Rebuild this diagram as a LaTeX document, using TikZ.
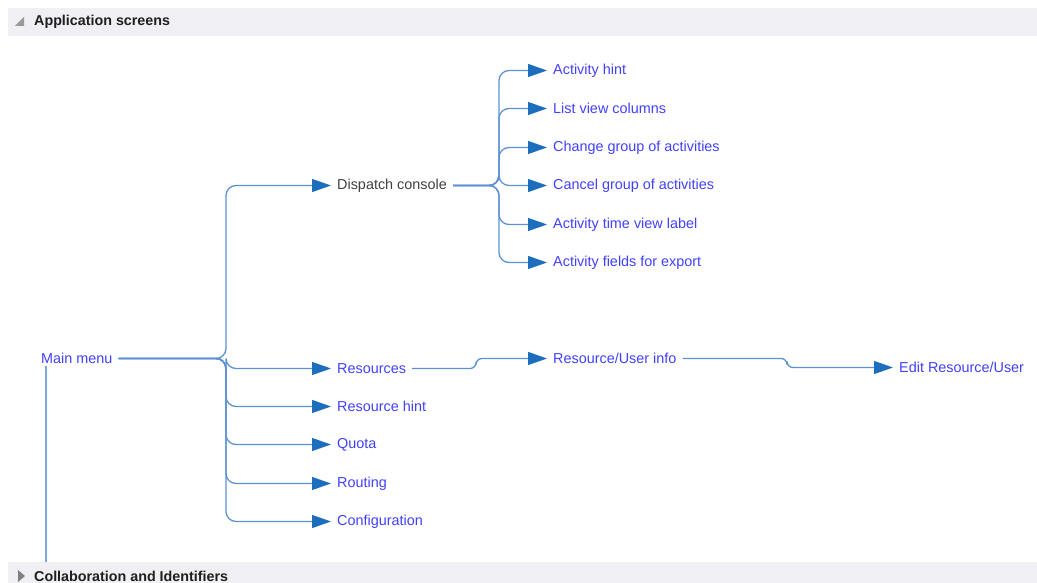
\documentclass[tikz,border=0pt]{standalone}
\usepackage{fontspec}
\setmainfont{Liberation Sans}
\usetikzlibrary{arrows.meta}
\definecolor{linkblue}{RGB}{64,64,255}
\definecolor{edgeblue}{RGB}{92,146,212}
\definecolor{tipblue}{RGB}{30,110,190}
\definecolor{barfill}{RGB}{239,239,244}
\begin{document}
\begin{tikzpicture}[
    x=1pt, y=-1pt,
    screen/.style={anchor=west, inner xsep=6pt, inner ysep=2pt, text=linkblue, font=\fontsize{14.4}{16}\selectfont},
    edge/.style={draw=edgeblue, line width=1.3pt, rounded corners=10pt, -{Triangle[length=19pt, width=13pt, color=tipblue]}},
    bartitle/.style={anchor=west, inner sep=0pt, text=black!88, font=\bfseries\fontsize{14.3}{16}\selectfont}
]
    \useasboundingbox (0,0) rectangle (1037,583);

    % section bars
    \fill[barfill] (8,8) rectangle (1037,36);
    \fill[barfill] (8,562) rectangle (1037,590);
    \fill[black!40] (24,17) -- (24,26) -- (15,26) -- cycle;
    \fill[black!50] (18,570) -- (18,582) -- (25,576) -- cycle;
    \node[bartitle] (apptitle) at (34,22) {Application screens};
    \node[bartitle] (collabtitle) at (34,576) {Collaboration and Identifiers};

    % screens
    \node[screen] (main) at (35,358.5) {Main menu};
    \node[screen, text=black!75] (disp) at (331,185.5) {Dispatch console};
    \node[screen] (hint) at (547,70.5) {Activity hint};
    \node[screen] (cols) at (547,108.5) {List view columns};
    \node[screen] (change) at (547,147.5) {Change group of activities};
    \node[screen] (cancel) at (547,185.5) {Cancel group of activities};
    \node[screen] (timelabel) at (547,224.5) {Activity time view label};
    \node[screen] (export) at (547,262.5) {Activity fields for export};
    \node[screen] (res) at (331,368.5) {Resources};
    \node[screen] (reshint) at (331,406.5) {Resource hint};
    \node[screen] (quota) at (331,444.5) {Quota};
    \node[screen] (routing) at (331,483.5) {Routing};
    \node[screen] (config) at (331,521.5) {Configuration};
    \node[screen] (userinfo) at (547,358.5) {Resource/User info};
    \node[screen] (edituser) at (893,367.5) {Edit Resource/User};

    % forks
    \coordinate (mfork) at (226,358.5);
    \coordinate (dfork) at (499,185.5);
    \coordinate (rstep) at (476,368.5);
    \coordinate (estep) at (787,358.5);

    \draw[draw=edgeblue!80, line width=1.5pt] ([xshift=11pt]main.south west) -- ([xshift=11pt]main.south west |- 0,562);

    \foreach \n in {disp, res, reshint, quota, routing, config}
        \draw[edge] (main.east) -- (mfork) |- (\n.west);
    \foreach \n in {hint, cols, change, cancel, timelabel, export}
        \draw[edge] (disp.east) -- (dfork) |- (\n.west);
    \draw[edge, rounded corners=6pt] (res.east) -- (rstep) |- (userinfo.west);
    \draw[edge, rounded corners=6pt] (userinfo.east) -- (estep) |- (edituser.west);
\end{tikzpicture}
\end{document}
